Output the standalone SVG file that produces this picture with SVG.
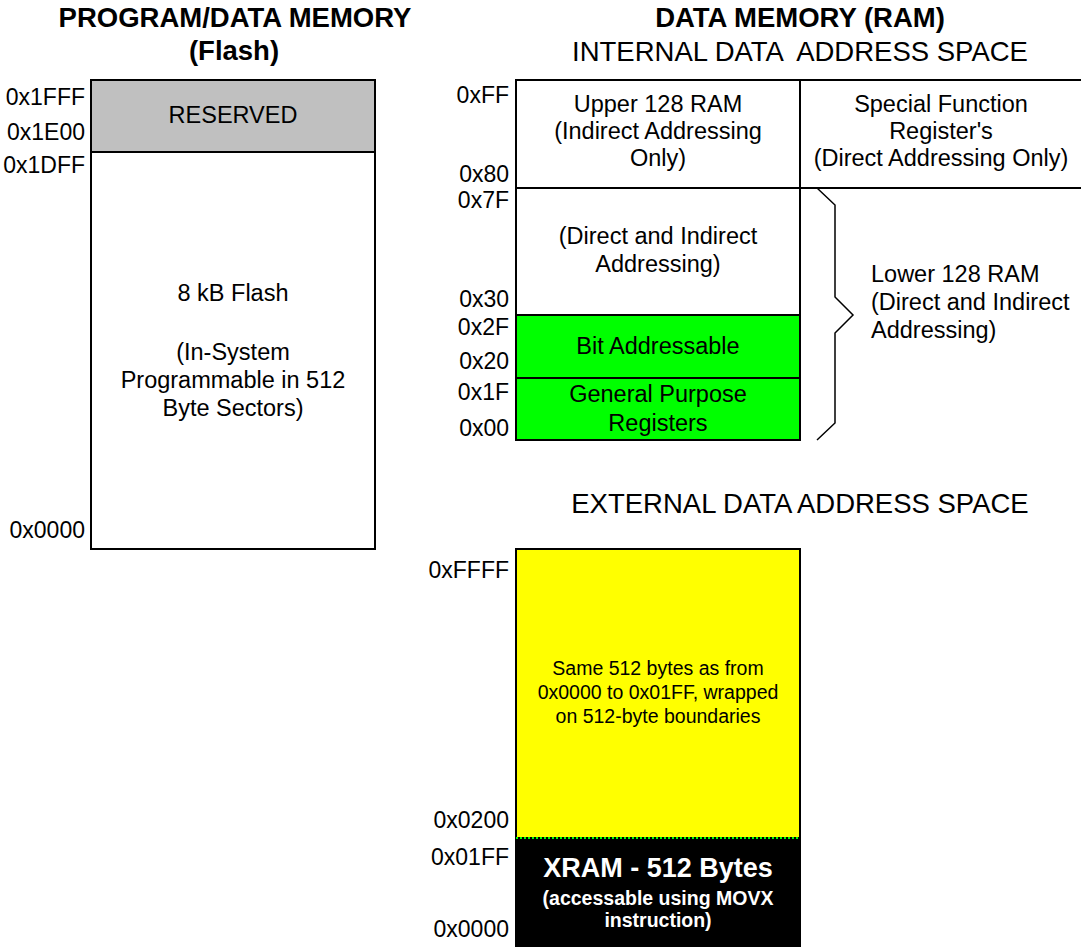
<svg xmlns="http://www.w3.org/2000/svg" width="1081" height="947" viewBox="0 0 1081 947">
<style>
text{font-family:"Liberation Sans",Arial,sans-serif;fill:#000}
.t{font-size:27.5px;font-weight:bold;text-anchor:middle}
.h{font-size:27.5px;text-anchor:middle}
.b{font-size:23.5px;text-anchor:middle}
.l{font-size:23px;text-anchor:end}
.s{font-size:19.5px;text-anchor:middle}
.box{stroke:#000;stroke-width:2}
</style>
<rect width="1081" height="947" fill="#fff"/>
<g id="titles">
<text class="t" x="235" y="27">PROGRAM/DATA MEMORY</text>
<text class="t" x="234" y="60">(Flash)</text>
<text class="t" x="800" y="27">DATA MEMORY (RAM)</text>
<text class="h" x="800" y="61" style="white-space:pre">INTERNAL DATA  ADDRESS SPACE</text>
<text class="h" x="800" y="513">EXTERNAL DATA ADDRESS SPACE</text>
</g>
<g id="flash">
<rect class="box" x="91" y="80" width="284" height="469" fill="#fff"/>
<rect class="box" x="91" y="80" width="284" height="72" fill="#C0C0C0"/>
<text class="b" x="233" y="123">RESERVED</text>
<text class="b" x="233" y="301">8 kB Flash</text>
<text class="b" x="233" y="360">(In-System</text>
<text class="b" x="233" y="388">Programmable in 512</text>
<text class="b" x="233" y="416">Byte Sectors)</text>
<text class="l" x="85" y="105">0x1FFF</text>
<text class="l" x="85" y="140">0x1E00</text>
<text class="l" x="85" y="173">0x1DFF</text>
<text class="l" x="85" y="538">0x0000</text>
</g>
<g id="upper128">
<rect class="box" x="516" y="80" width="284" height="108" fill="#fff"/>
<text class="b" x="658" y="112">Upper 128 RAM</text>
<text class="b" x="658" y="139">(Indirect Addressing</text>
<text class="b" x="658" y="166">Only)</text>
</g>
<g id="sfr">
<rect class="box" x="800" y="80" width="290" height="108" fill="#fff"/>
<text class="b" x="941" y="112">Special Function</text>
<text class="b" x="941" y="139">Register's</text>
<text class="b" x="941" y="166">(Direct Addressing Only)</text>
</g>
<g id="direct">
<rect class="box" x="516" y="188" width="284" height="127" fill="#fff"/>
<text class="b" x="658" y="244">(Direct and Indirect</text>
<text class="b" x="658" y="272">Addressing)</text>
</g>
<g id="bitaddr">
<rect class="box" x="516" y="315" width="284" height="63" fill="#00FF00"/>
<text class="b" x="658" y="354">Bit Addressable</text>
</g>
<g id="gpr">
<rect class="box" x="516" y="378" width="284" height="62" fill="#00FF00"/>
<text class="b" x="658" y="402">General Purpose</text>
<text class="b" x="658" y="431">Registers</text>
</g>
<g id="internal-labels">
<text class="l" x="509" y="103">0xFF</text>
<text class="l" x="509" y="182">0x80</text>
<text class="l" x="509" y="208">0x7F</text>
<text class="l" x="509" y="307">0x30</text>
<text class="l" x="509" y="335">0x2F</text>
<text class="l" x="509" y="369">0x20</text>
<text class="l" x="509" y="400">0x1F</text>
<text class="l" x="509" y="436">0x00</text>
</g>
<g id="lower128">
<text class="b" x="871" y="282" style="text-anchor:start">Lower 128 RAM</text>
<text class="b" x="871" y="310" style="text-anchor:start">(Direct and Indirect</text>
<text class="b" x="871" y="338" style="text-anchor:start">Addressing)</text>
</g>
<g id="connectors">
<path d="M817,188 L835,205 L835,297 L853,315 L835,333 L835,423 L817,440" fill="none" stroke="#000" stroke-width="1.5"/>
</g>
<g id="xram-wrap">
<rect class="box" x="516" y="549" width="284" height="289" fill="#FFFF00"/>
<text class="s" x="658" y="675">Same 512 bytes as from</text>
<text class="s" x="658" y="699">0x0000 to 0x01FF, wrapped</text>
<text class="s" x="658" y="723">on 512-byte boundaries</text>
</g>
<g id="xram">
<rect class="box" x="516" y="838" width="284" height="115" fill="#000"/>
<line x1="516" y1="838" x2="800" y2="838" stroke="#00FF00" stroke-width="2" stroke-dasharray="2,2"/>
<text class="t" x="658" y="877" style="fill:#fff;font-size:27px">XRAM - 512 Bytes</text>
<text class="t" x="658" y="905" style="fill:#fff;font-size:19.5px">(accessable using MOVX</text>
<text class="t" x="658" y="927" style="fill:#fff;font-size:19.5px">instruction)</text>
</g>
<g id="external-labels">
<text class="l" x="509" y="578">0xFFFF</text>
<text class="l" x="509" y="828">0x0200</text>
<text class="l" x="509" y="865">0x01FF</text>
<text class="l" x="509" y="937">0x0000</text>
</g>
</svg>
